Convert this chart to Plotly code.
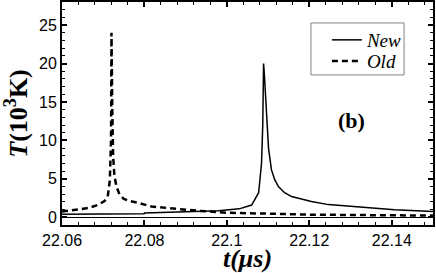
import plotly.graph_objects as go

# ---- data ----
new_t = [22.060, 22.0799, 22.080, 22.090, 22.098, 22.103, 22.106, 22.1077, 22.1084,
         22.1087, 22.1089, 22.1091, 22.1094, 22.1101, 22.1108, 22.1116, 22.1125, 22.1140,
         22.1157, 22.1180, 22.1205, 22.1246, 22.1325, 22.1407, 22.150]
new_T = [0.4, 0.45, 0.55, 0.7, 0.85, 1.1, 1.6, 3.2, 7.0,
         12.0, 20.0, 18.5, 16.0, 9.0, 6.2, 4.9, 4.0, 3.2,
         2.7, 2.35, 2.05, 1.65, 1.27, 0.97, 0.75]

old_t = [22.060, 22.063, 22.0663, 22.0687, 22.0703, 22.0711, 22.0716, 22.0719, 22.0720,
         22.0722, 22.0724, 22.0727, 22.0732, 22.0740, 22.0750, 22.0765, 22.0783,
         22.0817, 22.0853, 22.0930, 22.100, 22.110, 22.120, 22.130, 22.140, 22.150]
old_T = [0.75, 1.0, 1.2, 1.6, 2.1, 2.7, 4.8, 10.0, 24.0,
         14.0, 8.0, 5.5, 4.0, 2.9, 2.4, 2.1, 1.9,
         1.4, 1.2, 0.85, 0.6, 0.45, 0.35, 0.3, 0.25, 0.22]

x_tickvals = [22.06, 22.08, 22.10, 22.12, 22.14]
x_ticktext = ["22.06", "22.08", "22.1", "22.12", "22.14"]
y_tickvals = [0, 5, 10, 15, 20, 25]

SERIF = "Liberation Serif"
SANS = "Liberation Sans"

fig = go.Figure()
fig.add_trace(go.Scatter(x=new_t, y=new_T, mode="lines", name="<i>New</i>",
                         line=dict(color="black", width=1.5), legend="legend"))
fig.add_trace(go.Scatter(x=old_t, y=old_T, mode="lines", name="<i>Old</i>",
                         line=dict(color="black", width=2.5, dash="6px,4px"),
                         legend="legend2"))

axis_common = dict(showline=True, linecolor="black", linewidth=2, mirror="allticks",
                   ticks="inside", ticklen=5, tickwidth=1.5, tickcolor="black",
                   showgrid=False, automargin=False,
                   tickfont=dict(family=SANS, size=16, color="black"))

fig.update_xaxes(range=[22.06, 22.15], tickvals=x_tickvals, ticktext=x_ticktext,
                 zeroline=False,
                 minor=dict(ticks="inside", ticklen=3, tickwidth=1, tickcolor="black",
                            dtick=0.004, tick0=22.06),
                 title=dict(text="<b><i>t(μs)</i></b>", standoff=3,
                            font=dict(family=SERIF, size=26, color="black")),
                 **axis_common)
fig.update_yaxes(range=[-1, 28], tickvals=y_tickvals,
                 zeroline=True, zerolinecolor="black", zerolinewidth=1,
                 minor=dict(ticks="inside", ticklen=3, tickwidth=1, tickcolor="black",
                            dtick=1, tick0=0),
                 title=dict(text="<b><i>T</i>(10<sup>3</sup>K)</b>", standoff=4,
                            font=dict(family=SERIF, size=26, color="black")),
                 **axis_common)

leg_common = dict(xanchor="left", yanchor="middle", borderwidth=0,
                  bgcolor="rgba(0,0,0,0)",
                  font=dict(family=SERIF, size=19, color="black"), itemwidth=30)

fig.update_layout(
    width=436, height=273,
    margin=dict(l=62, r=3, t=2, b=48, autoexpand=False),
    paper_bgcolor="white", plot_bgcolor="white",
    showlegend=True,
    legend=dict(x=0.714, y=0.8296, **leg_common),
    legend2=dict(x=0.714, y=0.735, **leg_common),
    shapes=[dict(type="rect", xref="paper", yref="paper",
                 x0=0.671, x1=0.922, y0=0.673, y1=0.906,
                 line=dict(color="#808080", width=1), fillcolor="rgba(0,0,0,0)",
                 layer="above")],
    annotations=[dict(text="<b>(b)</b>", x=0.779, y=0.47, xref="paper", yref="paper",
                      xanchor="center", yanchor="middle",
                      showarrow=False, font=dict(family=SERIF, size=22, color="black"))],
)

fig.write_html("out.html", config={"displayModeBar": False},
               post_script="document.body.style.margin='0';document.body.style.overflow='hidden';")
